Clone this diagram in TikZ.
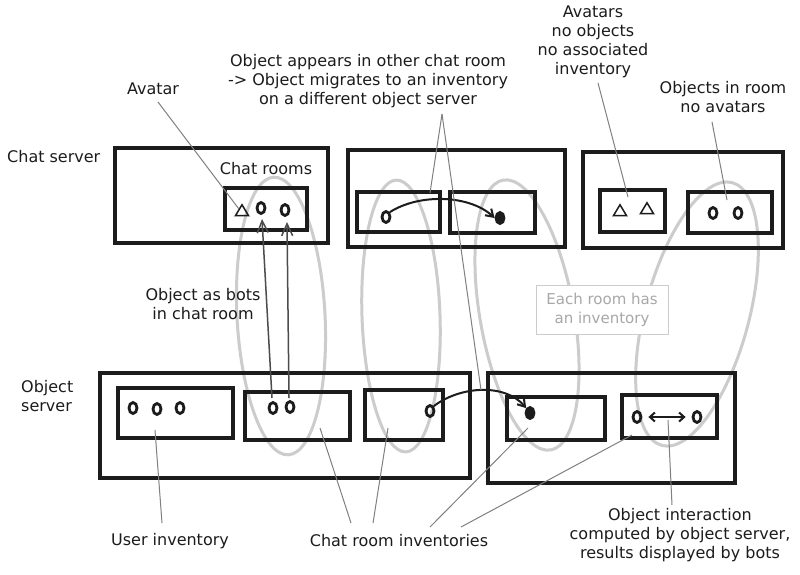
\documentclass[tikz,border=0pt]{standalone}
\usepackage{fontspec}
\setmainfont{DejaVu Sans}
\usetikzlibrary{arrows.meta,shapes.geometric}
\definecolor{ink}{HTML}{1C1C1C}
\definecolor{lead}{HTML}{808080}
\definecolor{loopc}{HTML}{CCCCCC}
\definecolor{note}{HTML}{A8A8A8}
\begin{document}
\begin{tikzpicture}[x=1pt,y=1pt,
  box/.style={draw=ink,line width=4.2pt,inner sep=0pt,rectangle},
  room/.style={draw=ink,line width=3.8pt,inner sep=0pt,rectangle},
  obj/.style={ellipse,draw=ink,line width=2.8pt,minimum width=8pt,minimum height=11pt,inner sep=0pt},
  fobj/.style={obj,fill=ink},
  avt/.style={isosceles triangle,isosceles triangle apex angle=62,shape border rotate=90,draw=ink,line width=1.5pt,minimum height=11pt,inner sep=0pt},
  lbl/.style={font=\fontsize{16}{19}\selectfont,align=center,text=ink,inner sep=1pt},
  leader/.style={draw=lead,line width=1pt},
  loopline/.style={draw=loopc,line width=3pt},
  bot/.style={draw=black!70,line width=1.5pt,-{Straight Barb[length=12pt,width=11pt]}},
  mig/.style={draw=ink,line width=2pt,-{Straight Barb[length=7pt,width=9pt]}},
]
\useasboundingbox (0,0) rectangle (800,-574);
\fill[white] (0,0) rectangle (800,-574);

% grey loops (each room has an inventory)
\draw[loopline, rotate around={3:(281,-316)}] (281,-316) ellipse [x radius=44, y radius=139];
\draw[loopline, rotate around={2:(401,-316)}] (401,-316) ellipse [x radius=39, y radius=136];
\draw[loopline, rotate around={10:(527,-315)}] (527,-315) ellipse [x radius=47, y radius=137];
\draw[loopline, rotate around={-15:(697,-314)}] (697,-314) ellipse [x radius=52, y radius=136];

% note box
\node[draw=loopc,fill=white,line width=1pt,minimum width=132pt,minimum height=49pt,
      font=\fontsize{15}{19}\selectfont,text=note,align=center,inner sep=0pt]
      (note) at (602,-309.5) {Each room has\\an inventory};

% chat servers
\node[box,minimum width=213pt,minimum height=95pt] (cs1) at (221.5,-195.5) {};
\node[room,minimum width=82pt,minimum height=42pt] (cr1) at (266,-209) {};
\node[box,minimum width=217pt,minimum height=97pt] (cs2) at (456.5,-198.5) {};
\node[room,minimum width=83pt,minimum height=40pt] (crA) at (398.5,-212) {};
\node[room,minimum width=85pt,minimum height=41pt] (crB) at (492.5,-212.5) {};
\node[box,minimum width=200pt,minimum height=96pt] (cs3) at (683,-200) {};
\node[room,minimum width=65pt,minimum height=42pt] (crC) at (632.5,-211) {};
\node[room,minimum width=84pt,minimum height=41pt] (crD) at (730,-212.5) {};

% object servers
\node[box,minimum width=370pt,minimum height=105pt] (os1) at (285,-425.5) {};
\node[room,minimum width=115pt,minimum height=50pt] (inv1) at (175.5,-413) {};
\node[room,minimum width=105pt,minimum height=48pt] (inv2) at (297.5,-416) {};
\node[room,minimum width=78pt,minimum height=50pt] (inv3) at (404,-415) {};
\node[box,minimum width=247pt,minimum height=110pt] (os2) at (611.5,-428) {};
\node[room,minimum width=98pt,minimum height=43pt] (inv4) at (556,-418.5) {};
\node[room,minimum width=95pt,minimum height=43pt] (inv5) at (669.5,-416.5) {};

% objects and avatars
\node[avt] (t1) at (242,-212) {};
\node[obj] (o1) at (261,-208) {};
\node[obj] (o2) at (285,-210) {};
\node[obj] (oA) at (386,-217) {};
\node[fobj] (dB) at (500,-218) {};
\node[avt] (t2) at (620,-212) {};
\node[avt] (t3) at (647,-210) {};
\node[obj] (oD1) at (713,-213) {};
\node[obj] (oD2) at (738,-213) {};
\node[obj] (i1a) at (133,-408) {};
\node[obj] (i1b) at (157,-409) {};
\node[obj] (i1c) at (180,-408) {};
\node[obj] (i2a) at (273,-408) {};
\node[obj] (i2b) at (290,-407) {};
\node[obj] (i3a) at (430,-411) {};
\node[fobj] (d4) at (530,-413) {};
\node[obj] (i5a) at (637,-417) {};
\node[obj] (i5b) at (697,-417) {};

% migration arrows
\draw[mig] (oA.north east) .. controls (420,-193) and (470,-195) .. (dB.west);
\draw[mig] (i3a.north east) .. controls (460,-386) and (505,-383) .. (d4.north west);
\draw[draw=ink,line width=2pt,shorten <=6pt,shorten >=6pt,{Straight Barb[length=5pt,width=9pt]}-{Straight Barb[length=5pt,width=9pt]}] (i5a.east) -- (i5b.west);

% bots arrows
\coordinate (b1s) at (272,-398);
\coordinate (b2s) at (289,-398);
\coordinate (b1e) at (262,-219);
\coordinate (b2e) at (287,-222);
\draw[bot] (b1s) -- (b1e);
\draw[bot] (b2s) -- (b2e);

% labels
\node[lbl,anchor=west] (chatsrv) at (6,-157) {Chat server};
\node[lbl,anchor=west,align=left] (objsrv) at (20,-396) {Object\\server};
\node[lbl] (avatarlbl) at (153,-89) {Avatar};
\node[lbl] (chatrooms) at (266,-169) {Chat rooms};
\node[lbl] (objappear) at (368,-81) {Object appears in other chat room\\-> Object migrates to an inventory\\on a different object server};
\node[lbl] (avatars) at (593,-42) {Avatars\\no objects\\no associated\\inventory};
\node[lbl] (objroom) at (723,-97) {Objects in room\\no avatars};
\node[lbl] (botslbl) at (203,-304) {Object as bots\\in chat room};
\node[lbl] (userinv) at (170,-541) {User inventory};
\node[lbl] (crinv) at (399,-541) {Chat room inventories};
\node[lbl] (objint) at (680,-535) {Object interaction\\computed by object server,\\results displayed by bots};

% leader lines
\coordinate (avS) at (158,-102);
\draw[leader] (avS) -- (t1.north west);
\coordinate (apS) at (442,-114);
\coordinate (apA) at (430,-193);
\coordinate (apB) at (481,-390);
\draw[leader] (apS) -- (apA);
\draw[leader] (apS) -- (apB);
\coordinate (avsS) at (598,-83);
\coordinate (avsE) at (628,-197);
\draw[leader] (avsS) -- (avsE);
\coordinate (orS) at (712,-122);
\coordinate (orE) at (727,-200);
\draw[leader] (orS) -- (orE);
\coordinate (uiS) at (162,-523);
\coordinate (uiE) at (155,-430);
\draw[leader] (uiS) -- (uiE);
\coordinate (c1S) at (351,-523);
\coordinate (c1E) at (320,-428);
\coordinate (c2S) at (373,-523);
\coordinate (c2E) at (388,-428);
\coordinate (c3S) at (430,-527);
\coordinate (c3E) at (528,-428);
\coordinate (c4S) at (461,-527);
\coordinate (c4E) at (632,-435);
\draw[leader] (c1S) -- (c1E);
\draw[leader] (c2S) -- (c2E);
\draw[leader] (c3S) -- (c3E);
\draw[leader] (c4S) -- (c4E);
\coordinate (oiS) at (672,-505);
\coordinate (oiE) at (668,-420);
\draw[leader] (oiS) -- (oiE);
\end{tikzpicture}
\end{document}
